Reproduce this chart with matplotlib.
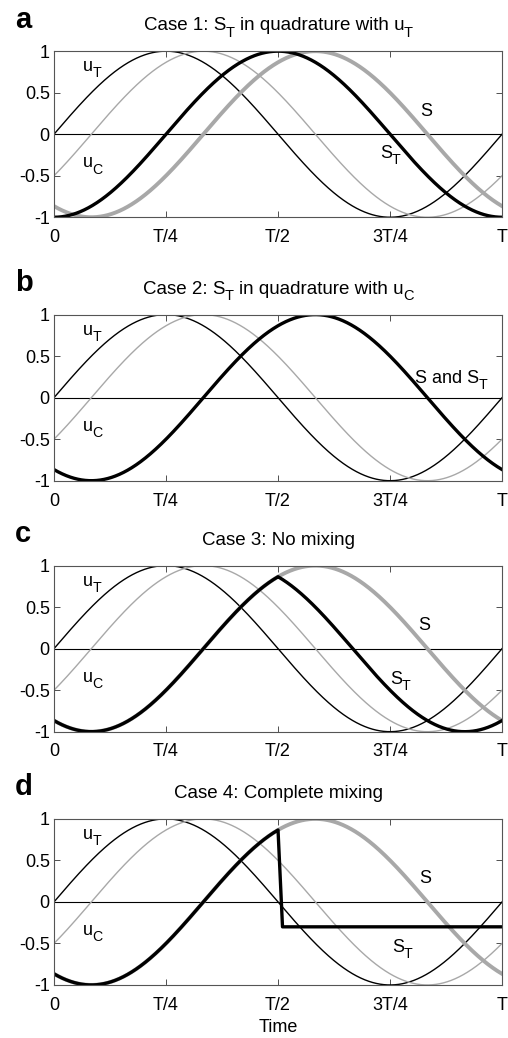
import matplotlib.pyplot as plt
import matplotlib.transforms as mtrans
import numpy as np

plt.rcParams['font.family'] = ['Liberation Sans', 'DejaVu Sans']

# phase lags (fraction of period T)
lag_uT = 0.0
lag_uC = 1 / 12
lag_S = 1 / 3
lag_ST_case1 = 1 / 4
lag_ST_case3 = 1 / 6      # S_T after T/2 in case 3
t_switch = 0.5            # S_T leaves S at T/2 (cases 3 and 4)
t_drop_end = 0.51         # end of the steep drop in case 4
level_case4 = -0.3        # flat level of S_T in case 4

xticks = [0, 0.25, 0.5, 0.75, 1]
xticklabels = ['0', 'T/4', 'T/2', '3T/4', 'T']
yticks = [-1, -0.5, 0, 0.5, 1]
yticklabels = ['-1', '-0.5', '0', '0.5', '1']

letters = ['a', 'b', 'c', 'd']
# (text, is_subscript)
titles = [[('Case 1: S', 0), ('T', 1), (' in quadrature with u', 0), ('T', 1)],
          [('Case 2: S', 0), ('T', 1), (' in quadrature with u', 0), ('C', 1)],
          [('Case 3: No mixing', 0)],
          [('Case 4: Complete mixing', 0)]]

# curve labels per panel: (x, y, parts)
uT_lbl = [(0.065, 0.76, [('u', 0), ('T', 1)])]
uC_lbl = [(0.065, -0.40, [('u', 0), ('C', 1)])]
labels = [
    [(0.817, 0.215, [('S', 0)]), (0.728, -0.29, [('S', 0), ('T', 1)])],
    [(0.806, 0.175, [('S and S', 0), ('T', 1)])],
    [(0.813, 0.224, [('S', 0)]), (0.75, -0.42, [('S', 0), ('T', 1)])],
    [(0.815, 0.23, [('S', 0)]), (0.754, -0.60, [('S', 0), ('T', 1)])],
]

t = np.linspace(0, 1, 1201)


def wave(lag):
    return np.sin(2 * np.pi * (t - lag))


uT = wave(lag_uT)
uC = wave(lag_uC)
S = wave(lag_S)
ST1 = wave(lag_ST_case1)
ST3 = np.where(t <= t_switch, S, wave(lag_ST_case3))
ST4_t = np.concatenate([t[t <= t_switch], [t_drop_end, 1.0]])
ST4 = np.concatenate([S[t <= t_switch], [level_case4, level_case4]])

fig = plt.figure(figsize=(5.08, 10.38), dpi=100)
renderer = fig.canvas.get_renderer()
FS = 13
FT = 13.5


def rich(ax, x, y, parts, size, transform, center=False, dy0=0.0):
    # draw text with MATLAB-like low subscripts
    arts = []
    for s, sub in parts:
        fs = size * 0.78 if sub else size
        lead = s.startswith(' ')
        tx = ax.text(x, y, s.strip(), fontsize=fs, transform=transform,
                     ha='left', va='baseline', clip_on=False)
        w = tx.get_window_extent(renderer).width * 72 / fig.dpi
        arts.append((tx, sub, w, lead))
    space = size * 0.28
    sub_gap = -0.03 * size
    total = 0
    for tx, sub, w, lead in arts:
        total += w + (space if lead else 0) + (sub_gap if sub else 0)
    cur = -total / 2 if center else 0
    for tx, sub, w, lead in arts:
        if lead:
            cur += space
        if sub:
            cur += sub_gap
        dy = -0.34 * size if sub else 0
        tx.set_transform(mtrans.offset_copy(transform, fig=fig, x=cur,
                                            y=dy + dy0, units='points'))
        cur += w


bottoms = [0.7907, 0.5369, 0.2951, 0.0511]
gray = '#a8a8a8'

for i, b in enumerate(bottoms):
    ax = fig.add_axes([0.1063, b, 0.882, 0.160])
    ax.axhline(0, color='black', lw=0.8)
    ax.plot(t, uT, color='black', lw=1.0)
    ax.plot(t, uC, color=gray, lw=1.0)
    if i == 0:
        ax.plot(t, S, color=gray, lw=2.8)
        ax.plot(t, ST1, color='black', lw=2.4)
    elif i == 1:
        ax.plot(t, S, color='black', lw=2.4)
    elif i == 2:
        ax.plot(t, S, color=gray, lw=2.8)
        ax.plot(t, ST3, color='black', lw=2.4)
    else:
        ax.plot(t, S, color=gray, lw=2.8)
        ax.plot(ST4_t, ST4, color='black', lw=2.4)

    ax.set_xlim(0, 1)
    ax.set_ylim(-1, 1)
    ax.set_xticks(xticks)
    ax.set_xticklabels(xticklabels)
    ax.set_yticks(yticks)
    ax.set_yticklabels(yticklabels)
    ax.tick_params(direction='in', length=4, width=0.6, top=True, right=True,
                   labelsize=FS, colors='#333333', labelcolor='black')
    ax.tick_params(axis='x', pad=8.5)
    ax.tick_params(axis='y', pad=3)
    for sp in ax.spines.values():
        sp.set_linewidth(0.8)
        sp.set_color('#555555')

    for x, y, parts in uT_lbl + uC_lbl + labels[i]:
        rich(ax, x, y, parts, FS, ax.transData)

    rich(ax, 0.5, 1.0, titles[i], FT, ax.transAxes, center=True, dy0=15)
    ax.text(-0.087, 1.0, letters[i], transform=mtrans.offset_copy(
        ax.transAxes, fig=fig, x=0, y=17, units='points'),
        fontsize=21, fontweight='bold', va='baseline', ha='left')
    if i == 3:
        ax.set_xlabel('Time', fontsize=FS, labelpad=4)

fig.savefig('out.png', dpi=100)
